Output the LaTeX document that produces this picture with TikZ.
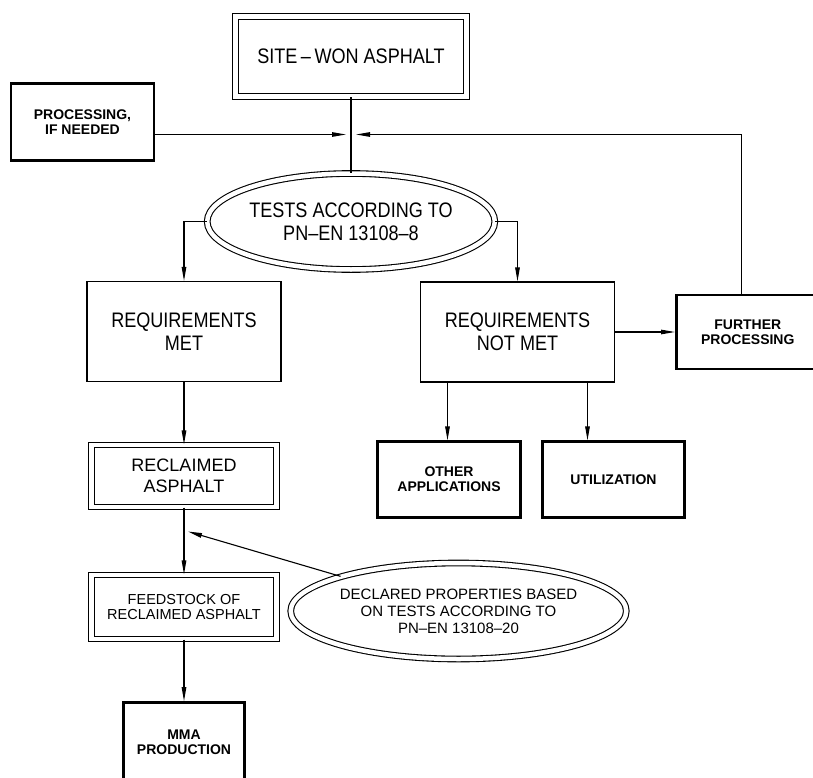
\documentclass[tikz,border=0pt]{standalone}
\usepackage{fontspec}
\setmainfont{Liberation Sans}
\newfontfamily\narrowfont{Liberation Sans}[FakeStretch=0.86]
\usetikzlibrary{shapes.geometric, arrows.meta}
\tikzstyle{bigtext} = [font=\narrowfont\fontsize{21}{23}\selectfont]
\tikzstyle{box} = [rectangle, draw=black, line width=1.1pt, text centered, align=center, bigtext]
\tikzstyle{dbox} = [rectangle, draw=black, double, double distance=4.5pt, line width=1.1pt, text centered, align=center]
\tikzstyle{heavy} = [rectangle, draw=black, line width=2.6pt, text centered, align=center, font=\bfseries\fontsize{14}{15}\selectfont]
\tikzstyle{dellipse} = [ellipse, draw=black, double, double distance=4.5pt, line width=1.1pt, inner sep=0pt, text centered, align=center]
\tikzstyle{line} = [line width=1.1pt]
\tikzstyle{arrow} = [line width=1.1pt, -{Triangle[length=14pt,width=4.5pt]}]

\begin{document}
\begin{tikzpicture}[node distance=110pt]

\useasboundingbox (0,0) rectangle (813pt,-778pt);

\node (site) [dbox, bigtext, minimum width=231pt, minimum height=80pt] at (351pt,-56.5pt) {SITE\,–\,WON ASPHALT};
\node (proc) [heavy, left of=site, xshift=-158.5pt, yshift=-65.5pt, minimum width=143pt, minimum height=77pt] {PROCESSING,\\IF NEEDED};
\coordinate (merge) at ([yshift=-78pt]site.center);

\node (tests) [dellipse, bigtext, below of=site, yshift=-55pt, minimum width=241pt, minimum height=96pt] {TESTS ACCORDING TO\\PN–EN 13108–8};

\node (met) [box, below of=tests, xshift=-167pt, minimum width=194pt, minimum height=100pt] {REQUIREMENTS\\MET};
\node (notmet) [box, below of=tests, xshift=166.5pt, yshift=-0.5pt, minimum width=194pt, minimum height=100pt] {REQUIREMENTS\\NOT MET};
% box runs off the right edge of the page
\node (further) [heavy, right of=notmet, xshift=136.3pt, minimum width=175pt, minimum height=74pt] {\hspace*{-32pt}FURTHER\\\hspace*{-32pt}PROCESSING};

\node (reclaimed) [dbox, below of=met, yshift=-34.5pt, minimum width=185pt, minimum height=62pt, font=\fontsize{18}{21.5}\selectfont] {RECLAIMED\\ASPHALT};
\node (other) [heavy, below of=notmet, xshift=-68.5pt, yshift=-37.5pt, minimum width=143.5pt, minimum height=75.5pt] {OTHER\\APPLICATIONS};
\node (util) [heavy, right of=other, xshift=54.5pt, minimum width=142.5pt, minimum height=75.5pt] {UTILIZATION};

\node (feed) [dbox, below of=reclaimed, yshift=-21pt, minimum width=185pt, minimum height=64pt, font=\fontsize{14.5}{15.5}\selectfont] {FEEDSTOCK OF\\RECLAIMED ASPHALT};
\node (declared) [dellipse, right of=feed, xshift=164.5pt, yshift=-4pt, minimum width=276pt, minimum height=96pt, font=\fontsize{15}{17}\selectfont] {DECLARED PROPERTIES BASED\\ON TESTS ACCORDING TO\\PN–EN 13108–20};
\node (mma) [heavy, below of=feed, yshift=-25.5pt, minimum width=121.5pt, minimum height=80pt] {MMA\\PRODUCTION};
\coordinate (tap) at ([xshift=4pt, yshift=-55.5pt]reclaimed.center);

\draw [line] (site) -- (tests);
\draw [arrow] (proc.east |- merge) -- ([xshift=-5pt]merge);
\draw [arrow] ([xshift=-22pt]further.north) |- ([xshift=5pt]merge);

\draw [arrow] (tests.west) -| (met.north);
\draw [arrow] (tests.east) -| (notmet.north);
\draw [arrow] (notmet) -- (further);

\draw [arrow] (met) -- (reclaimed);
\draw [arrow] ([xshift=-70pt]notmet.south) -- ([xshift=-70pt]notmet.south |- other.north);
\draw [arrow] ([xshift=70pt]notmet.south) -- ([xshift=70pt]notmet.south |- util.north);

\draw [arrow] (reclaimed) -- (feed);
\draw [arrow] (feed) -- (mma);
\draw [arrow] (declared) -- (tap);

\end{tikzpicture}
\end{document}
